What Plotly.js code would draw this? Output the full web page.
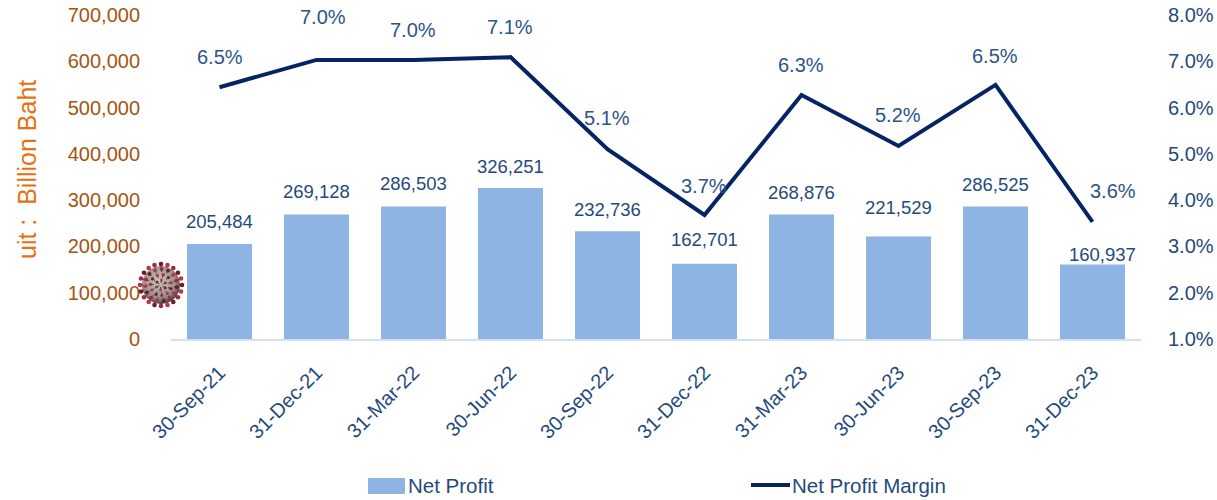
<!DOCTYPE html>
<html>
<head>
<meta charset="utf-8">
<script src="https://cdn.plot.ly/plotly-3.0.1.min.js"></script>
<style>html,body{margin:0;padding:0;background:#fff}#chart{width:1217px;height:500px}</style>
</head>
<body>
<div id="chart"></div>
<script>
const categories = ['30-Sep-21','31-Dec-21','31-Mar-22','30-Jun-22','30-Sep-22','31-Dec-22','31-Mar-23','30-Jun-23','30-Sep-23','31-Dec-23'];
const netProfit = [205484,269128,286503,326251,232736,162701,268876,221529,286525,160937];
const marginLine = [6.44,7.03,7.03,7.09,5.1,3.68,6.27,5.17,6.49,3.53];
const marginLabels = ['6.5%','7.0%','7.0%','7.1%','5.1%','3.7%','6.3%','5.2%','6.5%','3.6%'];
const leftTicks = [0,100000,200000,300000,400000,500000,600000,700000];
const rightTicks = [1,2,3,4,5,6,7,8];
const rightTickLabels = ['1.0%','2.0%','3.0%','4.0%','5.0%','6.0%','7.0%','8.0%'];

// label placement, in pixels from the mark
const barLabelDy = [22,23,23,21,22,24,22,29,22,10];
const barLabelDx = [0,0,0,0,0,0,0,0,0,10];
const marginLabelDx = [0,6,-1,-1,-1,-1,-1,-1,-1,20];
const marginLabelDy = [30,43,30,30,31,29,30,31,29,31];

const W = 1217, H = 500, L = 171, R = 1141, T = 15, B = 339;
const px = v => (v - L) / (R - L);
const py = v => (B - v) / (B - T);
const FONT = '"Liberation Sans", Arial, sans-serif';
const BLUE = '#1F4A7C', NAVY = '#042463', BROWN = '#A4550F', ORANGE = '#E8700F', BAR = '#8EB4E3';

function virus() {
  let s = "<svg xmlns='http://www.w3.org/2000/svg' width='96' height='96' viewBox='-24 -24 48 48'>";
  s += "<defs><radialGradient id='g' cx='45%' cy='40%' r='60%'><stop offset='0' stop-color='#c9c3bb'/><stop offset='0.7' stop-color='#99938c'/><stop offset='1' stop-color='#4d4444'/></radialGradient></defs>";
  s += "<circle r='19' fill='url(#g)'/>";
  const rings = [[21,20,0,2.3],[16,15,8,1.9],[10.5,11,20,1.6],[5,6,35,1.4]];
  rings.forEach(r => {
    for (let i = 0; i < r[1]; i++) {
      const a = (i * 360 / r[1] + r[2]) * Math.PI / 180;
      const x = (r[0] * Math.cos(a)).toFixed(1), y = (r[0] * Math.sin(a)).toFixed(1);
      const x0 = ((r[0]-3) * Math.cos(a)).toFixed(1), y0 = ((r[0]-3) * Math.sin(a)).toFixed(1);
      s += `<line x1='${x0}' y1='${y0}' x2='${x}' y2='${y}' stroke='#3f3a36' stroke-width='1'/>`;
      s += `<circle cx='${x}' cy='${y}' r='${r[3]}' fill='${i % 3 === 0 ? '#6e1a26' : (i % 3 === 1 ? '#b8344a' : '#a32a3e')}'/>`;
    }
  });
  s += "</svg>";
  return 'data:image/svg+xml,' + encodeURIComponent(s);
}

const barLabels = categories.map((c, i) => ({
  x: c, y: netProfit[i], yref: 'y', xref: 'x',
  text: netProfit[i].toLocaleString('en-US'),
  showarrow: false, yanchor: 'middle', xshift: barLabelDx[i], yshift: barLabelDy[i],
  font: {family: FONT, size: 18.5, color: BLUE}
}));
const lineLabels = categories.map((c, i) => ({
  x: c, y: marginLine[i], yref: 'y2', xref: 'x',
  text: marginLabels[i], showarrow: false, yanchor: 'middle',
  xshift: marginLabelDx[i], yshift: marginLabelDy[i],
  font: {family: FONT, size: 20, color: '#2A5587'}
}));

const traces = [
  {type: 'bar', name: 'Net Profit', x: categories, y: netProfit,
   marker: {color: BAR}, yaxis: 'y', hoverinfo: 'x+y'},
  {type: 'scatter', mode: 'lines', name: 'Net Profit Margin', x: categories, y: marginLine,
   line: {color: NAVY, width: 4, shape: 'linear'}, yaxis: 'y2', hoverinfo: 'x+y'}
];

const layout = {
  width: W, height: H,
  paper_bgcolor: '#fff', plot_bgcolor: '#fff',
  margin: {l: L, r: W - R, t: T, b: H - B, pad: 0},
  showlegend: false, bargap: 0.33,
  font: {family: FONT},
  xaxis: {type: 'category', categoryorder: 'array', categoryarray: categories,
    tickangle: -45, tickfont: {family: FONT, size: 20, color: BLUE}, ticklabelstandoff: 12,
    ticks: '', showgrid: false, zeroline: false, showline: true, linecolor: '#D5E0F0', linewidth: 2},
  yaxis: {range: [0, 700000], tickvals: leftTicks, tickformat: ',d', ticklabelstandoff: 30,
    tickfont: {family: FONT, size: 20, color: BROWN}, ticks: '', showgrid: false,
    zeroline: false, showline: false},
  yaxis2: {range: [1, 8], tickvals: rightTicks, ticktext: rightTickLabels, ticklabelstandoff: 26,
    overlaying: 'y', side: 'right', tickfont: {family: FONT, size: 20, color: BLUE},
    ticks: '', showgrid: false, zeroline: false, showline: false},
  annotations: barLabels.concat(lineLabels, [
    {xref: 'paper', yref: 'paper', x: px(27), y: py(170), text: 'uit :  Billion Baht', textangle: -90,
     showarrow: false, xanchor: 'center', yanchor: 'middle', font: {family: FONT, size: 25, color: ORANGE}},
    {xref: 'paper', yref: 'paper', x: px(408), y: py(485), text: 'Net Profit', showarrow: false,
     xanchor: 'left', yanchor: 'middle', xshift: -2, font: {family: FONT, size: 20.5, color: BLUE}},
    {xref: 'paper', yref: 'paper', x: px(792), y: py(485), text: 'Net Profit Margin', showarrow: false,
     xanchor: 'left', yanchor: 'middle', xshift: -2, font: {family: FONT, size: 20.5, color: BLUE}}
  ]),
  shapes: [
    {type: 'rect', xref: 'paper', yref: 'paper', x0: px(368), x1: px(405), y0: py(494), y1: py(478),
     fillcolor: BAR, line: {width: 0}},
    {type: 'line', xref: 'paper', yref: 'paper', x0: px(751), x1: px(790), y0: py(485), y1: py(485),
     line: {color: NAVY, width: 4}}
  ],
  images: [{source: virus(), xref: 'paper', yref: 'paper', x: px(137), y: py(309),
    sizex: 48 / (R - L), sizey: 48 / (B - T), xanchor: 'left', yanchor: 'bottom',
    sizing: 'stretch', layer: 'above'}]
};

Plotly.newPlot('chart', traces, layout, {displayModeBar: false, responsive: false});
</script>
</body>
</html>
